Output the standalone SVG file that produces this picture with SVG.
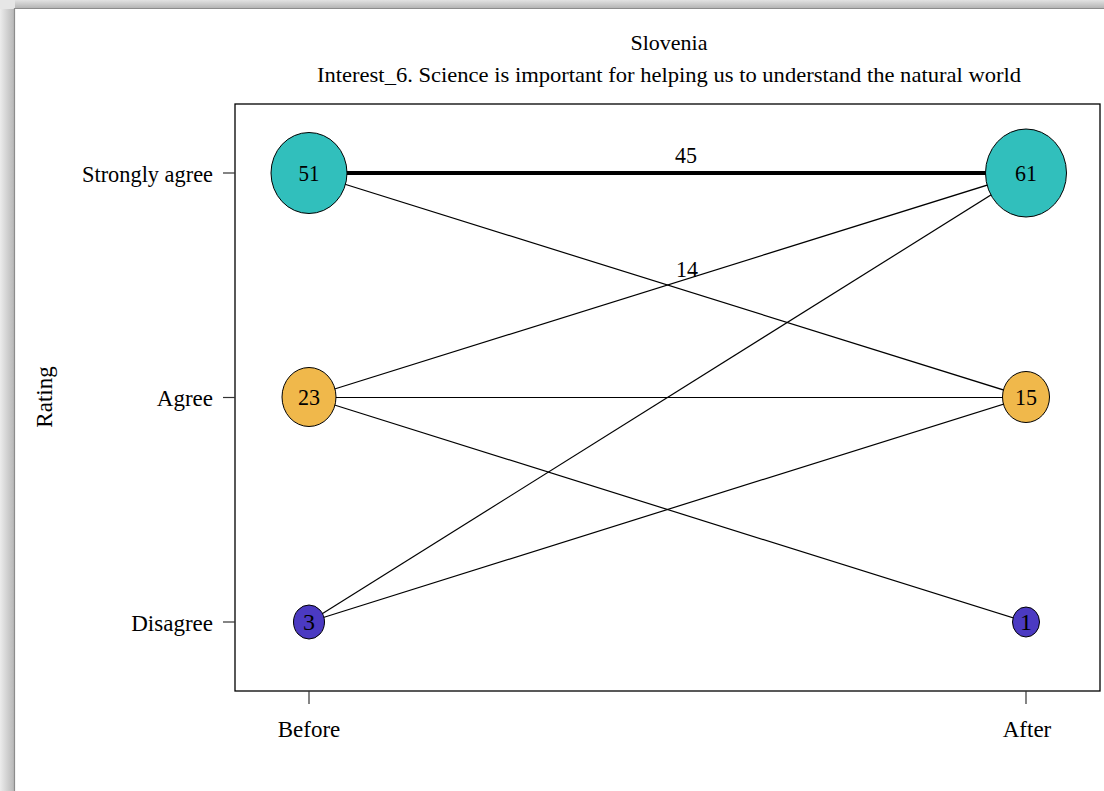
<svg xmlns="http://www.w3.org/2000/svg" width="1104" height="791" viewBox="0 0 1104 791">
<defs>
<style>
text{font-family:"Liberation Serif","Times New Roman",serif;fill:#000;}
.ax{font-size:23px;}
.n{font-size:24px;text-anchor:middle;}
.e{stroke:#000;stroke-width:1.2;fill:none;}
.teal{fill:#31BFBC;stroke:#000;stroke-width:1;}
.org{fill:#F0B84B;stroke:#000;stroke-width:1;}
.pur{fill:#4B3AC2;stroke:#000;stroke-width:1;}
.tick{stroke:#333;stroke-width:1.2;}
</style>
<linearGradient id="gTop" x1="0" y1="0" x2="0" y2="1">
<stop offset="0" stop-color="#e2e2e2"/>
<stop offset="1" stop-color="#b0b0b0"/>
</linearGradient>
<linearGradient id="gLeft" x1="0" y1="0" x2="1" y2="0">
<stop offset="0" stop-color="#ececec"/>
<stop offset="1" stop-color="#b4b4b4"/>
</linearGradient>
</defs>
<rect x="0" y="0" width="1104" height="791" fill="#ffffff"/>
<g id="frame-shadow">
<rect x="0" y="0" width="1104" height="9" fill="url(#gTop)"/>
<rect x="0" y="0" width="15" height="791" fill="url(#gLeft)"/>
<rect x="0" y="0" width="15" height="9" fill="#e6e6e6"/>
<line x1="14" y1="8.5" x2="1104" y2="8.5" stroke="#8c8c8c" stroke-width="1.2"/>
<line x1="14.5" y1="8" x2="14.5" y2="791" stroke="#8c8c8c" stroke-width="1.2"/>
</g>
<g id="titles">
<text x="669" y="50" font-size="22" text-anchor="middle" textLength="77" lengthAdjust="spacingAndGlyphs">Slovenia</text>
<text x="317" y="82" font-size="22" textLength="704" lengthAdjust="spacingAndGlyphs">Interest_6. Science is important for helping us to understand the natural world</text>
</g>
<g id="axes">
<rect x="235" y="104" width="865" height="587" fill="none" stroke="#000" stroke-width="1.3"/>
<line class="tick" x1="223" y1="173" x2="235" y2="173"/>
<line class="tick" x1="223" y1="397.5" x2="235" y2="397.5"/>
<line class="tick" x1="223" y1="622" x2="235" y2="622"/>
<line class="tick" x1="309" y1="691" x2="309" y2="704"/>
<line class="tick" x1="1026" y1="691" x2="1026" y2="704"/>
<text class="ax" x="213" y="182" text-anchor="end" textLength="131" lengthAdjust="spacingAndGlyphs">Strongly agree</text>
<text class="ax" x="213" y="406" text-anchor="end">Agree</text>
<text class="ax" x="213" y="631" text-anchor="end">Disagree</text>
<text class="ax" x="309" y="737" text-anchor="middle">Before</text>
<text class="ax" x="1027" y="737" text-anchor="middle">After</text>
<text class="ax" x="0" y="0" text-anchor="middle" transform="translate(52,397) rotate(-90)">Rating</text>
</g>
<g id="connectors">
<line x1="309" y1="173" x2="1026" y2="173" stroke="#000" stroke-width="4"/>
<line class="e" x1="309" y1="173" x2="1026" y2="397"/>
<line class="e" x1="309" y1="397" x2="1026" y2="173"/>
<line class="e" x1="309" y1="397.5" x2="1026" y2="397.5"/>
<line class="e" x1="309" y1="397" x2="1026" y2="622"/>
<line class="e" x1="309" y1="622" x2="1026" y2="173"/>
<line class="e" x1="309" y1="622" x2="1026" y2="397"/>
<text class="n" x="686" y="163" textLength="22" lengthAdjust="spacingAndGlyphs">45</text>
<text class="n" x="687" y="277" textLength="22" lengthAdjust="spacingAndGlyphs">14</text>
</g>
<g id="before-strongly-agree">
<ellipse class="teal" cx="309" cy="173" rx="38" ry="40.5"/>
<text class="n" x="309" y="181" textLength="21" lengthAdjust="spacingAndGlyphs">51</text>
</g>
<g id="before-agree">
<ellipse class="org" cx="309" cy="397" rx="27" ry="29.5"/>
<text class="n" x="309" y="405" textLength="22" lengthAdjust="spacingAndGlyphs">23</text>
</g>
<g id="before-disagree">
<ellipse class="pur" cx="309" cy="622" rx="15.5" ry="17"/>
<text class="n" x="309" y="630">3</text>
</g>
<g id="after-strongly-agree">
<ellipse class="teal" cx="1026" cy="173" rx="40.5" ry="44"/>
<text class="n" x="1026" y="181" textLength="22" lengthAdjust="spacingAndGlyphs">61</text>
</g>
<g id="after-agree">
<ellipse class="org" cx="1026" cy="397" rx="23.5" ry="25.5"/>
<text class="n" x="1026" y="405" textLength="22" lengthAdjust="spacingAndGlyphs">15</text>
</g>
<g id="after-disagree">
<ellipse class="pur" cx="1026" cy="622" rx="13.5" ry="15"/>
<text class="n" x="1026" y="630">1</text>
</g>
</svg>
